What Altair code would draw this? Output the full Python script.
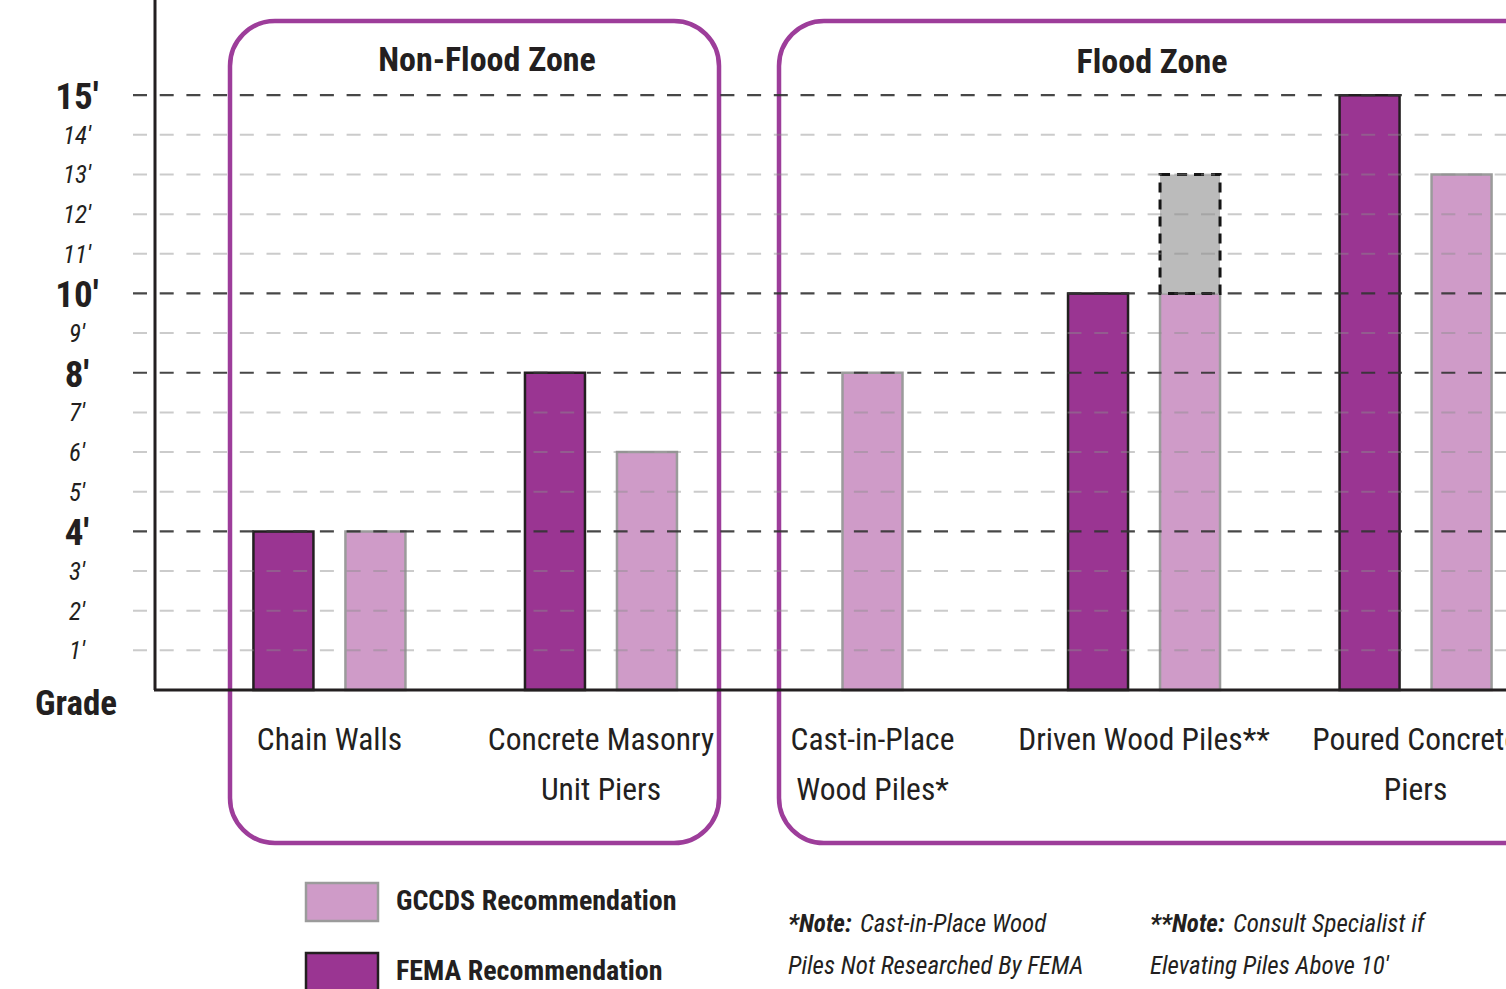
import altair as alt
import pandas as pd

# ---------------------------------------------------------------- values
categories = [
    "Chain Walls",
    "Concrete Masonry Unit Piers",
    "Cast-in-Place Wood Piles*",
    "Driven Wood Piles**",
    "Poured Concrete Piers",
]
category_labels = [
    "Chain Walls",
    "Concrete Masonry\nUnit Piers",
    "Cast-in-Place\nWood Piles*",
    "Driven Wood Piles**",
    "Poured Concrete\nPiers",
]
series = ["GCCDS Recommendation", "FEMA Recommendation"]
gccds_ft = [4, 6, 8, 10, 13]
fema_ft = [4, 8, None, 10, 15]

# optional extra height that needs a specialist
specialist_category = ["Driven Wood Piles**"]
specialist_from_ft = [10]
specialist_to_ft = [13]

tick_ft = [1, 2, 3, 4, 5, 6, 7, 8, 9, 10, 11, 12, 13, 14, 15]
major_ft = [4, 8, 10, 15]

# ---------------------------------------------------------------- tables
rows = []
for cat, g, f in zip(categories, gccds_ft, fema_ft):
    paired = g is not None and f is not None
    if f is not None:
        rows.append({"category": cat, "series": series[1], "feet": f, "side": "left" if paired else "mid"})
    if g is not None:
        rows.append({"category": cat, "series": series[0], "feet": g, "side": "right" if paired else "mid"})
bars_df = pd.DataFrame(rows)

spec_df = pd.DataFrame({
    "category": specialist_category,
    "low": specialist_from_ft,
    "high": specialist_to_ft,
})
cat_df = pd.DataFrame({"category": categories, "label": category_labels})
grid_df = pd.DataFrame({"ft": tick_ft})
grid_df["major"] = grid_df["ft"].isin(major_ft)
one = pd.DataFrame({"g": [0]})

# ---------------------------------------------------------------- style
FONT = "Roboto Condensed, Liberation Sans Narrow, DejaVu Sans Condensed, sans-serif"
PURPLE = "#9a3592"
PINK = "#cf9bc8"
ZONE = "#9d3d9a"
INK = "#231f20"
BAR_W = 60
SHIFT = 46

x_scale = alt.Scale(domain=categories, range=[253, 1492], paddingInner=0.437, paddingOuter=0)
y_scale = alt.Scale(domain=[-7.54, 17.4], nice=False, zero=False)

legend = alt.Legend(
    title=None, orient="none", legendX=320.5, legendY=880.5,
    symbolType="M-1.8,-0.95H1.8V0.95H-1.8Z", symbolSize=1600,
    symbolStrokeWidth=2.5, symbolOpacity=1,
    labelFont=FONT, labelFontSize=28, labelFontWeight="bold", labelColor=INK,
    labelOffset=32.5, rowPadding=21, labelLimit=0, padding=0,
)
color = alt.Color("series:N", scale=alt.Scale(domain=series, range=[PINK, PURPLE]), legend=legend)
stroke = alt.Stroke("series:N", scale=alt.Scale(domain=series, range=["#9b9b9b", INK]), legend=legend)


def text(t, x, y, size, weight="normal", style="normal", align="left"):
    return alt.Chart(pd.DataFrame({"t": [t]})).mark_text(
        font=FONT, fontSize=size, fontWeight=weight, fontStyle=style,
        align=align, baseline="alphabetic", color=INK, clip=True,
    ).encode(x=alt.value(x), y=alt.value(y), text="t:N")


# ---------------------------------------------------------------- zone frames
def zone(x0, x1):
    return alt.Chart(one).mark_rect(
        cornerRadius=45, fillOpacity=0, stroke=ZONE, strokeWidth=4.5, clip=True
    ).encode(x=alt.value(x0), x2=alt.value(x1), y=alt.value(21), y2=alt.value(843))


frames = [zone(230, 719), zone(779, 1580)]
zone_titles = [
    text("Non-Flood Zone", 487, 71, 34, weight="bold", align="center"),
    text("Flood Zone", 1152, 73, 34, weight="bold", align="center"),
]


# ---------------------------------------------------------------- bars
def bars(side, shift):
    return alt.Chart(bars_df).transform_filter(f"datum.side == '{side}'").mark_bar(
        size=BAR_W, xOffset=shift, strokeWidth=2.5, clip=True
    ).encode(
        x=alt.X("category:N", scale=x_scale, axis=None),
        y=alt.Y("feet:Q", scale=y_scale, axis=None),
        y2=alt.datum(0),
        color=color,
        stroke=stroke,
    )


bar_layers = [bars("left", -SHIFT), bars("right", SHIFT), bars("mid", 0)]

specialist = alt.Chart(spec_df).mark_bar(
    size=BAR_W, xOffset=SHIFT, fill="#bbbbbb", stroke="#151515",
    strokeWidth=3, strokeDash=[10, 7], clip=True,
).encode(
    x=alt.X("category:N", scale=x_scale, axis=None),
    y=alt.Y("low:Q", scale=y_scale, axis=None),
    y2="high:Q",
)

# ---------------------------------------------------------------- grid and axes
grid_minor = alt.Chart(grid_df).transform_filter("!datum.major").mark_rule(
    strokeDash=[14, 12.7], color="#8c8c8c", opacity=0.45, strokeWidth=2, clip=True
).encode(y=alt.Y("ft:Q", scale=y_scale, axis=None), x=alt.value(133), x2=alt.value(1506))

grid_major = alt.Chart(grid_df).transform_filter("datum.major").mark_rule(
    strokeDash=[14, 12.7], color="#333333", opacity=0.9, strokeWidth=2.2, clip=True
).encode(y=alt.Y("ft:Q", scale=y_scale, axis=None), x=alt.value(133), x2=alt.value(1506))

y_axis_line = alt.Chart(one).mark_rule(color=INK, strokeWidth=3).encode(
    x=alt.value(155), y=alt.value(0), y2=alt.value(690)
)
x_axis_line = alt.Chart(one).mark_rule(color=INK, strokeWidth=3, clip=True).encode(
    y=alt.Y("g:Q", scale=y_scale, axis=None), x=alt.value(154), x2=alt.value(1506)
)

tick_major = alt.Chart(grid_df).transform_filter("datum.major").transform_calculate(
    lbl="datum.ft + '\u2032'"
).mark_text(font=FONT, fontSize=37, fontWeight="bold", color=INK, baseline="alphabetic", dy=14).encode(
    x=alt.value(77), y=alt.Y("ft:Q", scale=y_scale, axis=None), text="lbl:N"
)
tick_minor = alt.Chart(grid_df).transform_filter("!datum.major").transform_calculate(
    lbl="datum.ft + '\u2032'"
).mark_text(font=FONT, fontSize=25, fontStyle="italic", color=INK, baseline="alphabetic", dy=9).encode(
    x=alt.value(77), y=alt.Y("ft:Q", scale=y_scale, axis=None), text="lbl:N"
)
grade = text("Grade", 76, 715, 35, weight="bold", align="center")

cat_text = alt.Chart(cat_df).mark_text(
    font=FONT, fontSize=31.5, color=INK, lineBreak="\n", lineHeight=50,
    baseline="alphabetic", clip=True,
).encode(x=alt.X("category:N", scale=x_scale, axis=None), y=alt.value(750), text="label:N")

# ---------------------------------------------------------------- footnotes
notes = [
    text("*Note:", 788, 932, 25, weight="bold", style="italic"),
    text("Cast-in-Place Wood", 860, 932, 25, style="italic"),
    text("Piles Not Researched By FEMA", 788, 974, 25, style="italic"),
    text("**Note:", 1150, 932, 25, weight="bold", style="italic"),
    text("Consult Specialist if", 1233, 932, 25, style="italic"),
    text("Elevating Piles Above 10\u2032", 1150, 974, 25, style="italic"),
]

chart = alt.layer(
    *frames, *bar_layers, specialist, grid_minor, grid_major,
    y_axis_line, x_axis_line, tick_major, tick_minor, grade, cat_text,
    *zone_titles, *notes,
).properties(
    width=1506, height=989, padding=0,
    autosize=alt.AutoSizeParams(type="none"),
).configure_view(stroke=None)

chart.save("out.html", embed_options={"renderer": "svg", "actions": False})
